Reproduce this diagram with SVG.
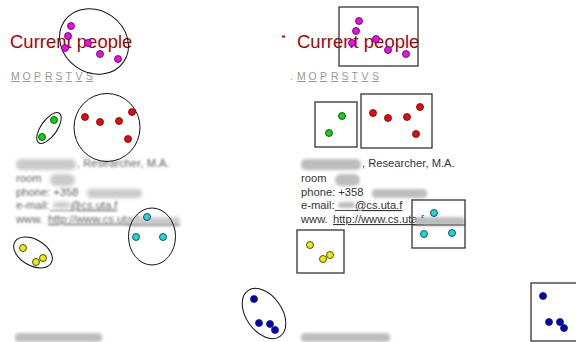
<svg xmlns="http://www.w3.org/2000/svg" xmlns:xlink="http://www.w3.org/1999/xlink" width="576" height="342" viewBox="0 0 576 342">
<defs>
<filter id="blur" x="-10%" y="-50%" width="120%" height="200%"><feGaussianBlur stdDeviation="1.6"/></filter>
<filter id="soft" x="-10%" y="-10%" width="120%" height="120%"><feGaussianBlur stdDeviation="1.2"/></filter>
<style>
.title{font-family:"Liberation Sans",Arial,sans-serif;font-size:18.5px;fill:#b00000;}
.idx{font-family:"Liberation Sans",Arial,sans-serif;font-size:10.5px;fill:#999;text-decoration:underline;}
.info{font-family:"Liberation Sans",Arial,sans-serif;font-size:11.2px;fill:#333;}
.link{text-decoration:underline;}
.blob{fill:#bdbdbd;filter:url(#blur);}
.ell{fill:none;stroke:#111;stroke-width:1;}
.box{fill:none;stroke:#333;stroke-width:1.3;}
.d{stroke:#222;stroke-width:0.8;}
.mag{fill:#f0f;}.red{fill:#f00;}.grn{fill:#0d0;}.cyn{fill:#1dd;}.yel{fill:#ee0;}.blu{fill:#00c;}
</style>
<g id="infoblock">
<rect class="blob" x="301" y="159" width="60" height="11" rx="5"/>
<text class="info" x="362" y="167">, Researcher, M.A.</text>
<text class="info" x="301" y="182">room</text>
<rect class="blob" x="335" y="174" width="25" height="12" rx="6"/>
<text class="info" x="301" y="196">phone:  +358</text>
<rect class="blob" x="372" y="189" width="55" height="9" rx="4"/>
<text class="info" x="301" y="209">e-mail:</text>
<rect class="blob" x="338" y="202" width="17" height="6" rx="3"/>
<text class="info link" x="355" y="209">@cs.uta.f</text>
<line x1="335" y1="210.5" x2="355" y2="210.5" stroke="#333" stroke-width="0.9"/>
<text class="info" x="301" y="223">www.</text>
<text class="info link" x="333" y="223">http://www.cs.uta.f</text>
<rect class="blob" x="415" y="217" width="50" height="9" rx="4"/>
<line x1="412" y1="225" x2="465" y2="225" stroke="#333" stroke-width="0.9"/>
</g>
</defs>
<rect width="576" height="342" fill="#fff"/>

<!-- left panel -->
<text class="title" x="10" y="48">Current people</text>
<g id="index-left">
<text class="idx" x="11" y="80">M</text><text class="idx" x="22.5" y="80">O</text><text class="idx" x="34" y="80">P</text><text class="idx" x="45" y="80">R</text><text class="idx" x="55.5" y="80">S</text><text class="idx" x="65.5" y="80">T</text><text class="idx" x="75.5" y="80">V</text><text class="idx" x="86" y="80">S</text>
</g>
<g id="info-left" opacity="0.8" filter="url(#soft)"><use xlink:href="#infoblock" transform="translate(-285,0)"/></g>
<rect class="blob" x="15" y="333" width="87" height="9" rx="4"/>

<g id="magenta-ellipse">
<ellipse class="ell" cx="94" cy="41.5" rx="36" ry="31" transform="rotate(35 94 41.5)"/>
<circle class="d mag" cx="71" cy="26" r="3.5"/><circle class="d mag" cx="68" cy="36" r="3.5"/><circle class="d mag" cx="65" cy="48" r="3.5"/><circle class="d mag" cx="88" cy="43" r="3.5"/><circle class="d mag" cx="100" cy="54" r="3.5"/><circle class="d mag" cx="118" cy="59" r="3.5"/>
</g>
<g id="green-ellipse">
<ellipse class="ell" cx="49" cy="128" rx="18" ry="8" transform="rotate(-55 49 128)"/>
<circle class="d grn" cx="54" cy="120" r="3.5"/><circle class="d grn" cx="42" cy="137" r="3.5"/>
</g>
<g id="red-ellipse">
<ellipse class="ell" cx="107" cy="127.5" rx="33" ry="34"/>
<circle class="d red" cx="85" cy="117" r="3.5"/><circle class="d red" cx="100" cy="122" r="3.5"/><circle class="d red" cx="119" cy="121" r="3.5"/><circle class="d red" cx="132" cy="112" r="3.5"/><circle class="d red" cx="128" cy="139" r="3.5"/>
</g>
<g id="cyan-ellipse">
<ellipse class="ell" cx="152" cy="236.5" rx="23.5" ry="28.5"/>
<circle class="d cyn" cx="147" cy="217" r="3.5"/><circle class="d cyn" cx="136" cy="237" r="3.5"/><circle class="d cyn" cx="163" cy="237" r="3.5"/>
</g>
<g id="yellow-ellipse">
<ellipse class="ell" cx="33" cy="252.5" rx="21" ry="13" transform="rotate(30 33 252.5)"/>
<circle class="d yel" cx="23" cy="248" r="3.5"/><circle class="d yel" cx="36" cy="262" r="3.5"/><circle class="d yel" cx="43" cy="258" r="3.5"/>
</g>
<g id="blue-ellipse">
<ellipse class="ell" cx="264" cy="313.5" rx="28" ry="18" transform="rotate(55 264 313.5)"/>
<circle class="d blu" cx="254" cy="299" r="3.5"/><circle class="d blu" cx="259" cy="323" r="3.5"/><circle class="d blu" cx="270" cy="324" r="3.5"/><circle class="d blu" cx="275" cy="330" r="3.5"/>
</g>

<!-- right panel -->
<rect x="282" y="35.5" width="3" height="2" fill="#b00000"/>
<text class="title" x="297" y="48">Current people</text>
<g id="index-right">
<text class="idx" x="290" y="80" style="text-decoration:none">.</text>
<text class="idx" x="297" y="80">M</text><text class="idx" x="308.5" y="80">O</text><text class="idx" x="320" y="80">P</text><text class="idx" x="331" y="80">R</text><text class="idx" x="341.5" y="80">S</text><text class="idx" x="351.5" y="80">T</text><text class="idx" x="361.5" y="80">V</text><text class="idx" x="372" y="80">S</text>
</g>
<use xlink:href="#infoblock"/>
<rect class="blob" x="301" y="333" width="89" height="9" rx="4"/>

<g id="magenta-box">
<rect class="box" x="339" y="7" width="79" height="59"/>
<circle class="d mag" cx="359" cy="21" r="3.5"/><circle class="d mag" cx="356" cy="31" r="3.5"/><circle class="d mag" cx="352" cy="43" r="3.5"/><circle class="d mag" cx="376" cy="39" r="3.5"/><circle class="d mag" cx="388" cy="50" r="3.5"/><circle class="d mag" cx="406" cy="54" r="3.5"/>
</g>
<g id="green-box">
<rect class="box" x="315" y="102" width="42" height="45"/>
<circle class="d grn" cx="342" cy="116" r="3.5"/><circle class="d grn" cx="329" cy="133" r="3.5"/>
</g>
<g id="red-box">
<rect class="box" x="361" y="94" width="71" height="54"/>
<circle class="d red" cx="373" cy="113" r="3.5"/><circle class="d red" cx="388" cy="118" r="3.5"/><circle class="d red" cx="407" cy="117" r="3.5"/><circle class="d red" cx="420" cy="107" r="3.5"/><circle class="d red" cx="416" cy="134" r="3.5"/>
</g>
<g id="cyan-box">
<rect class="box" x="412" y="200" width="53" height="48"/>
<circle class="d cyn" cx="434" cy="213" r="3.5"/><circle class="d cyn" cx="424" cy="234" r="3.5"/><circle class="d cyn" cx="452" cy="233" r="3.5"/>
</g>
<g id="yellow-box">
<rect class="box" x="297" y="230" width="47" height="43"/>
<circle class="d yel" cx="310" cy="245" r="3.5"/><circle class="d yel" cx="323" cy="259" r="3.5"/><circle class="d yel" cx="330" cy="255" r="3.5"/>
</g>
<g id="blue-box">
<rect class="box" x="531" y="283" width="50" height="58"/>
<circle class="d blu" cx="543" cy="296" r="3.5"/><circle class="d blu" cx="549" cy="322" r="3.5"/><circle class="d blu" cx="560" cy="322" r="3.5"/><circle class="d blu" cx="564" cy="328" r="3.5"/>
</g>
<g id="connectors"/>
</svg>
